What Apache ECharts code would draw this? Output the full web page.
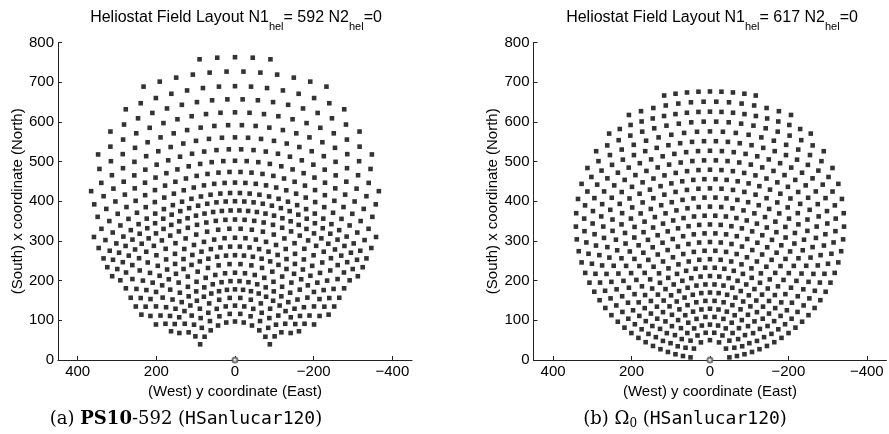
<!DOCTYPE html>
<html>
<head>
<meta charset="utf-8">
<script src="https://cdn.jsdelivr.net/npm/echarts@6.0.0/dist/echarts.min.js"></script>
<style>
  html, body { margin: 0; background: #fff; }
  #chart { width: 889px; height: 434px; }
</style>
</head>
<body>
<div id="chart"></div>
<script>
// tick labels of the x axis (reversed: west on the left)
const xTicks = [400, 200, 0, -200, -400];

// PS10 field: heliostat rows are arcs around the tower
// radius of each row, heliostats in the row, angle (deg) of the outermost one
const ps10Radius = [97, 117, 137, 157, 178, 199, 220, 242, 264, 286, 308, 331, 354, 377, 400,
  421, 447, 474, 502, 531, 561, 592, 624, 657, 690, 727, 763];
const ps10Count = [11, 10, 13, 14, 21, 20, 21, 20, 27, 26, 25, 24, 29, 34, 33,
  32, 31, 30, 27, 26, 25, 22, 21, 18, 15, 12, 5];
const ps10Span = [66, 59.4, 59.4, 64.35, 66, 62.7, 66, 62.7, 64.35, 61.88, 59.4, 56.93, 55.44, 55.94, 54.24,
  52.55, 50.85, 49.16, 44.07, 42.38, 40.68, 35.6, 33.9, 28.82, 23.73, 18.65, 6.78];

// Omega0 field, same description
const omegaRadius = [50, 69.5, 89.2, 109.1, 129.2, 149.5, 170, 190.7, 211.6, 232.7, 254, 275.5, 297.3,
  319.3, 341.5, 363.9, 386.5, 409.4, 432.5, 455.8, 479.4, 503.2, 527.2, 551.5, 576, 600.8, 625.8, 651.1, 676.6];
const omegaCount = [7, 10, 13, 14, 17, 18, 21, 22, 23, 24, 23, 24, 25,
  26, 27, 28, 27, 28, 27, 28, 27, 26, 25, 24, 21, 20, 19, 14, 9];
const omegaSpan = [82.4, 81.74, 80.63, 79.31, 77.86, 76.31, 74.7, 73.02, 71.29, 69.51, 67.67, 65.79, 63.84,
  61.83, 59.76, 57.62, 55.4, 53.09, 50.68, 48.16, 45.49, 42.68, 39.67, 36.42, 32.86, 28.88, 24.26, 18.51, 9.94];

const towerPos = [[0, 0]];

// rows -> [y (west-east), x (south-north)] pairs
function rowsToPoints(radius, count, span) {
  const pts = [];
  radius.forEach((r, i) => {
    const n = count[i];
    const half = span[i] * Math.PI / 180;
    for (let k = 0; k < n; k++) {
      const a = n === 1 ? 0 : -half + (2 * half * k) / (n - 1);
      pts.push([+(r * Math.sin(a)).toFixed(1), +(r * Math.cos(a)).toFixed(1)]);
    }
  });
  return pts;
}

const ps10Field = rowsToPoints(ps10Radius, ps10Count, ps10Span);
const omega0Field = rowsToPoints(omegaRadius, omegaCount, omegaSpan);

const chart = echarts.init(document.getElementById('chart'));

const font = 'Liberation Sans';

function xAxisFor(i) {
  return {
    type: 'value', gridIndex: i, min: -450, max: 450, inverse: true,
    axisLine: { show: true, onZero: false, lineStyle: { color: '#222' } },
    axisTick: { show: true, inside: true, length: 4, customValues: xTicks, lineStyle: { color: '#222' } },
    axisLabel: {
      customValues: xTicks, fontSize: 15, fontFamily: font, color: '#000', margin: 4,
      formatter: v => (v < 0 ? '\u2212' + (-v) : String(v))
    },
    splitLine: { show: false },
    name: '(West) y coordinate (East)', nameLocation: 'middle', nameGap: 15,
    nameTextStyle: { fontSize: 15, fontFamily: font, color: '#000' }
  };
}

function yAxisFor(i) {
  return {
    type: 'value', gridIndex: i, min: 0, max: 800, interval: 100,
    axisLine: { show: true, onZero: false, lineStyle: { color: '#222' } },
    axisTick: { show: true, inside: true, length: 4, lineStyle: { color: '#222' } },
    axisLabel: { fontSize: 15, fontFamily: font, color: '#000', margin: 4 },
    splitLine: { show: false },
    name: '(South) x coordinate (North)', nameLocation: 'middle', nameGap: 33,
    nameTextStyle: { fontSize: 15, fontFamily: font, color: '#000' }
  };
}

function fieldSeries(data, i) {
  return {
    type: 'scatter', xAxisIndex: i, yAxisIndex: i, data: data,
    symbol: 'rect', symbolSize: 4.6, itemStyle: { color: '#000' }, silent: true
  };
}

function towerSeries(i) {
  return {
    type: 'scatter', xAxisIndex: i, yAxisIndex: i, data: towerPos,
    symbol: 'emptyCircle', symbolSize: 5, itemStyle: { color: '#555', borderWidth: 1 }, silent: true
  };
}

const titleRich = {
  t: { fontSize: 16, fontFamily: font, fontWeight: 'normal', color: '#000' },
  s: { fontSize: 11, fontFamily: font, fontWeight: 'normal', color: '#000', padding: [18, 0, 0, 0] }
};
const capRich = {
  r: { fontSize: 18, fontFamily: 'DejaVu Serif', fontWeight: 'normal', color: '#000' },
  b: { fontSize: 18, fontFamily: 'DejaVu Serif', fontWeight: 'bold', color: '#000' },
  m: { fontSize: 18, fontFamily: 'DejaVu Sans Mono', fontWeight: 'normal', color: '#000' },
  s: { fontSize: 12, fontFamily: 'DejaVu Serif', fontWeight: 'normal', color: '#000', padding: [9, 0, 0, 0] }
};

chart.setOption({
  animation: false,
  backgroundColor: '#fff',
  title: [
    { text: '{t|Heliostat Field Layout N1}{s|hel}{t|= 592 N2}{s|hel}{t|=0}', left: 236, top: 3, padding: 0,
      textAlign: 'center', textStyle: { rich: titleRich } },
    { text: '{t|Heliostat Field Layout N1}{s|hel}{t|= 617 N2}{s|hel}{t|=0}', left: 712, top: 3, padding: 0,
      textAlign: 'center', textStyle: { rich: titleRich } },
    { text: '{r|(a) }{b|PS10}{r|-592 (}{m|HSanlucar120}{r|)}', left: 186, top: 410, padding: 0,
      textAlign: 'center', textStyle: { rich: capRich } },
    { text: '{r|(b) \u03a9}{s|0}{r| (}{m|HSanlucar120}{r|)}', left: 685, top: 409, padding: 0,
      textAlign: 'center', textStyle: { rich: capRich } }
  ],
  grid: [
    { left: 58, top: 42.5, width: 354, height: 317.5 },
    { left: 533.5, top: 42.5, width: 355.5, height: 317.5 }
  ],
  xAxis: [xAxisFor(0), xAxisFor(1)],
  yAxis: [yAxisFor(0), yAxisFor(1)],
  series: [
    fieldSeries(ps10Field, 0), towerSeries(0),
    fieldSeries(omega0Field, 1), towerSeries(1)
  ]
});
</script>
</body>
</html>
